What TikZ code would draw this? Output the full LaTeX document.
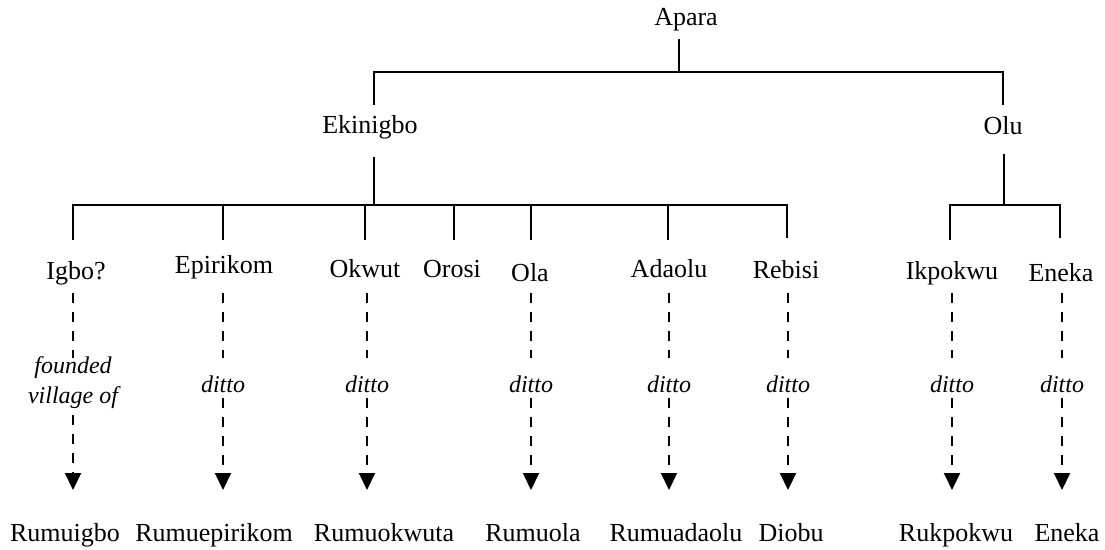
\documentclass[tikz,border=0pt]{standalone}
\usepackage{fontspec}
\setmainfont{Liberation Serif}
\usetikzlibrary{arrows.meta}
\begin{document}
\begin{tikzpicture}[x=1pt,y=-1pt,
  clan/.style={font=\fontsize{26}{30}\selectfont, inner sep=0pt, anchor=base},
  note/.style={font=\fontsize{24}{30}\selectfont\itshape, inner sep=0pt, align=center, anchor=base},
  branch/.style={line width=2pt},
  lineage/.style={line width=2pt, dash pattern=on 10pt off 9pt},
  lineagetip/.style={lineage, -{Triangle[width=16pt,length=17pt]}},
]
\useasboundingbox (0,0) rectangle (1105,549);

% ancestors
\node[clan] (apara) at (686,25) {Apara};
\node[clan] (ekinigbo) at (370,133) {Ekinigbo};
\node[clan] (olu) at (1003,134) {Olu};

% first generation
\coordinate (apara-j) at (679,72);
\coordinate (eki-top) at (374,72);
\coordinate (olu-top) at (1003,72);
\draw[branch] (679,39) -- (apara-j);
\draw[branch] (374,105) -- (eki-top) -- (olu-top) -- (1003,105);

% children of Ekinigbo
\node[clan] (igbo)     at (76,279)  {Igbo?};
\node[clan] (epirikom) at (224,273) {Epirikom};
\node[clan] (okwut)    at (365,277) {Okwut};
\node[clan] (orosi)    at (452,277) {Orosi};
\node[clan] (ola)      at (530,281) {Ola};
\node[clan] (adaolu)   at (669,277) {Adaolu};
\node[clan] (rebisi)   at (786,278) {Rebisi};
\coordinate (eki-bar-l) at (73,205);
\coordinate (eki-bar-r) at (787,205);
\draw[branch] (374,157) -- (374,205);
\draw[branch] (73,240) -- (eki-bar-l) -- (eki-bar-r) -- (787,238);
\foreach \x in {223,365,454,531,668}
  \draw[branch] (\x,205) -- (\x,240);

% children of Olu
\node[clan] (ikpokwu) at (952,279)  {Ikpokwu};
\node[clan] (eneka)   at (1061,281) {Eneka};
\coordinate (olu-bar-l) at (950,205);
\coordinate (olu-bar-r) at (1060,205);
\draw[branch] (1004,154) -- (1004,205);
\draw[branch] (950,240) -- (olu-bar-l) -- (olu-bar-r) -- (1060,238);

% villages founded (base anchor sits on the last line)
\node[note] (n-igbo) at (73,403) {founded\\village of};
\node[clan] (v-igbo) at (65,541) {Rumuigbo};
\draw[lineage] (73,293) -- (73,358);
\draw[lineagetip] (73,415) -- (73,490);

\foreach \i/\x/\tx/\tgt in {epirikom/223/214/Rumuepirikom,
    okwut/367/384/Rumuokwuta, ola/531/533/Rumuola,
    adaolu/669/676/Rumuadaolu, rebisi/788/791/Diobu,
    ikpokwu/952/956/Rukpokwu, eneka/1062/1067/Eneka}{
  \node[note] (n-\i) at (\x,392) {ditto};
  \node[clan] (v-\i) at (\tx,541) {\tgt};
  \draw[lineage] (\x,293) -- (\x,358);
  \draw[lineagetip] (\x,398) -- (\x,490);
}
\end{tikzpicture}
\end{document}
